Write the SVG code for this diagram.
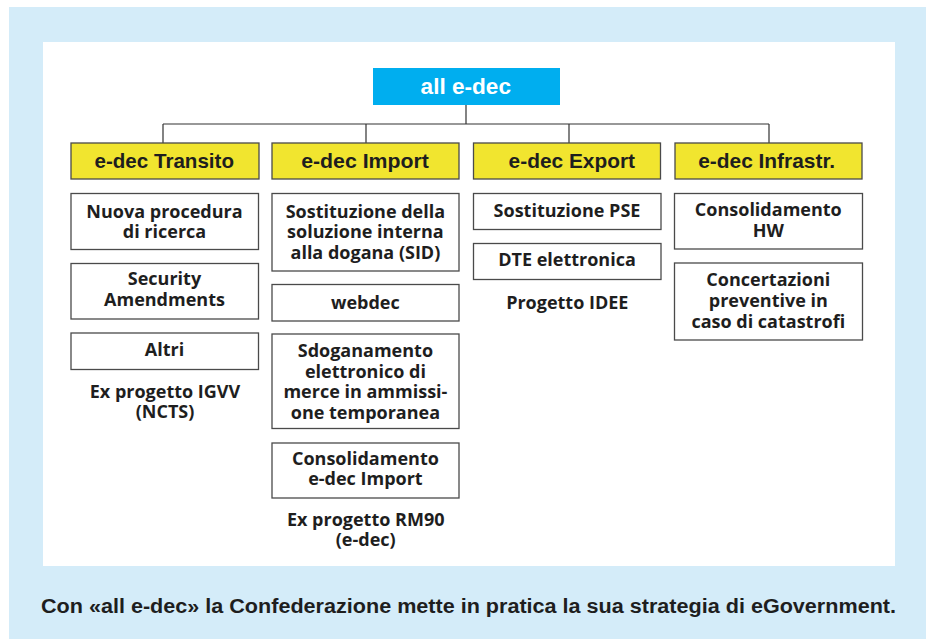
<svg xmlns="http://www.w3.org/2000/svg" width="926" height="639" viewBox="0 0 926 639">
<style>
.hd{font-family:"Liberation Sans",Arial,sans-serif;font-weight:bold;fill:#1e1e1e;font-size:21px}
.tx{font-family:"Open Sans","Noto Sans",sans-serif;font-weight:bold;fill:#1e1e1e;font-size:18px;text-anchor:middle}
.yb{fill:#f1e52f;stroke:#4a4a4a;stroke-width:1.3}
.wb{fill:#ffffff;stroke:#4a4a4a;stroke-width:1.3}
.cn{fill:none;stroke:#333;stroke-width:1.2}
</style>
<rect x="9" y="7" width="917" height="632" fill="#d4ecf9"/>
<rect x="43" y="42" width="852" height="524" fill="#ffffff"/>
<g id="connectors">
<path class="cn" d="M466,105 V124 M163,124 H769 M163,124 V143 M366,124 V143 M569,124 V143 M769,124 V143"/>
</g>
<g id="root">
<rect x="373" y="68" width="187" height="37" fill="#00aeef"/>
<text class="hd" x="420.6" y="94" textLength="90.4" lengthAdjust="spacingAndGlyphs" style="fill:#ffffff;font-size:22px">all e-dec</text>
</g>
<g id="transito">
<rect class="yb" x="71" y="143" width="188" height="36"/>
<text class="hd" x="94.5" y="168" textLength="139.5" lengthAdjust="spacingAndGlyphs">e-dec Transito</text>
</g>
<g id="import">
<rect class="yb" x="272" y="143" width="187" height="36"/>
<text class="hd" x="301.2" y="168" textLength="127.6" lengthAdjust="spacingAndGlyphs">e-dec Import</text>
</g>
<g id="export">
<rect class="yb" x="473.5" y="143" width="187" height="36"/>
<text class="hd" x="508.6" y="168" textLength="126.4" lengthAdjust="spacingAndGlyphs">e-dec Export</text>
</g>
<g id="infrastr">
<rect class="yb" x="675" y="143" width="187" height="36"/>
<text class="hd" x="698.2" y="168" textLength="137" lengthAdjust="spacingAndGlyphs">e-dec Infrastr.</text>
</g>
<g id="t1">
<rect class="wb" x="71" y="193.5" width="187.5" height="56"/>
<text class="tx" x="164.5" y="217.5">Nuova procedura</text>
<text class="tx" x="164.5" y="237.5">di ricerca</text>
</g>
<g id="t2">
<rect class="wb" x="71" y="263.5" width="187.5" height="55.5"/>
<text class="tx" x="164.5" y="285">Security</text>
<text class="tx" x="164.5" y="306">Amendments</text>
</g>
<g id="t3">
<rect class="wb" x="71" y="333" width="187.5" height="36.5"/>
<text class="tx" x="164.5" y="356">Altri</text>
</g>
<g id="t-note">
<text class="tx" x="165" y="397.5">Ex progetto IGVV</text>
<text class="tx" x="165" y="417.5">(NCTS)</text>
</g>
<g id="i1">
<rect class="wb" x="272" y="193.5" width="187" height="77.5"/>
<text class="tx" x="365.4" y="217.5">Sostituzione della</text>
<text class="tx" x="365.4" y="238">soluzione interna</text>
<text class="tx" x="365.4" y="258.5">alla dogana (SID)</text>
</g>
<g id="i2">
<rect class="wb" x="272" y="284.5" width="187" height="36.5"/>
<text class="tx" x="365.4" y="308.5">webdec</text>
</g>
<g id="i3">
<rect class="wb" x="272" y="334" width="187" height="94.5"/>
<text class="tx" x="365.4" y="357">Sdoganamento</text>
<text class="tx" x="365.4" y="377.5">elettronico di</text>
<text class="tx" x="365.4" y="398">merce in ammissi-</text>
<text class="tx" x="365.4" y="418.5">one temporanea</text>
</g>
<g id="i4">
<rect class="wb" x="272" y="443" width="187" height="55"/>
<text class="tx" x="365.4" y="464.5">Consolidamento</text>
<text class="tx" x="365.4" y="485">e-dec Import</text>
</g>
<g id="i-note">
<text class="tx" x="365.7" y="526">Ex progetto RM90</text>
<text class="tx" x="365.7" y="546">(e-dec)</text>
</g>
<g id="e1">
<rect class="wb" x="473.5" y="193.5" width="187.5" height="36"/>
<text class="tx" x="567" y="217">Sostituzione PSE</text>
</g>
<g id="e2">
<rect class="wb" x="473.5" y="243.5" width="187.5" height="36"/>
<text class="tx" x="567" y="265.5">DTE elettronica</text>
</g>
<g id="e-note">
<text class="tx" x="567.3" y="308.5">Progetto IDEE</text>
</g>
<g id="f1">
<rect class="wb" x="674.5" y="193.5" width="188" height="55.5"/>
<text class="tx" x="768.3" y="216">Consolidamento</text>
<text class="tx" x="768.3" y="237">HW</text>
</g>
<g id="f2">
<rect class="wb" x="674.5" y="263" width="188" height="77"/>
<text class="tx" x="768.3" y="286">Concertazioni</text>
<text class="tx" x="768.3" y="307">preventive in</text>
<text class="tx" x="768.3" y="327.5">caso di catastrofi</text>
</g>
<text class="hd" x="41" y="612.5" textLength="855" lengthAdjust="spacingAndGlyphs" style="font-size:20px">Con «all e-dec» la Confederazione mette in pratica la sua strategia di eGovernment.</text>
</svg>
